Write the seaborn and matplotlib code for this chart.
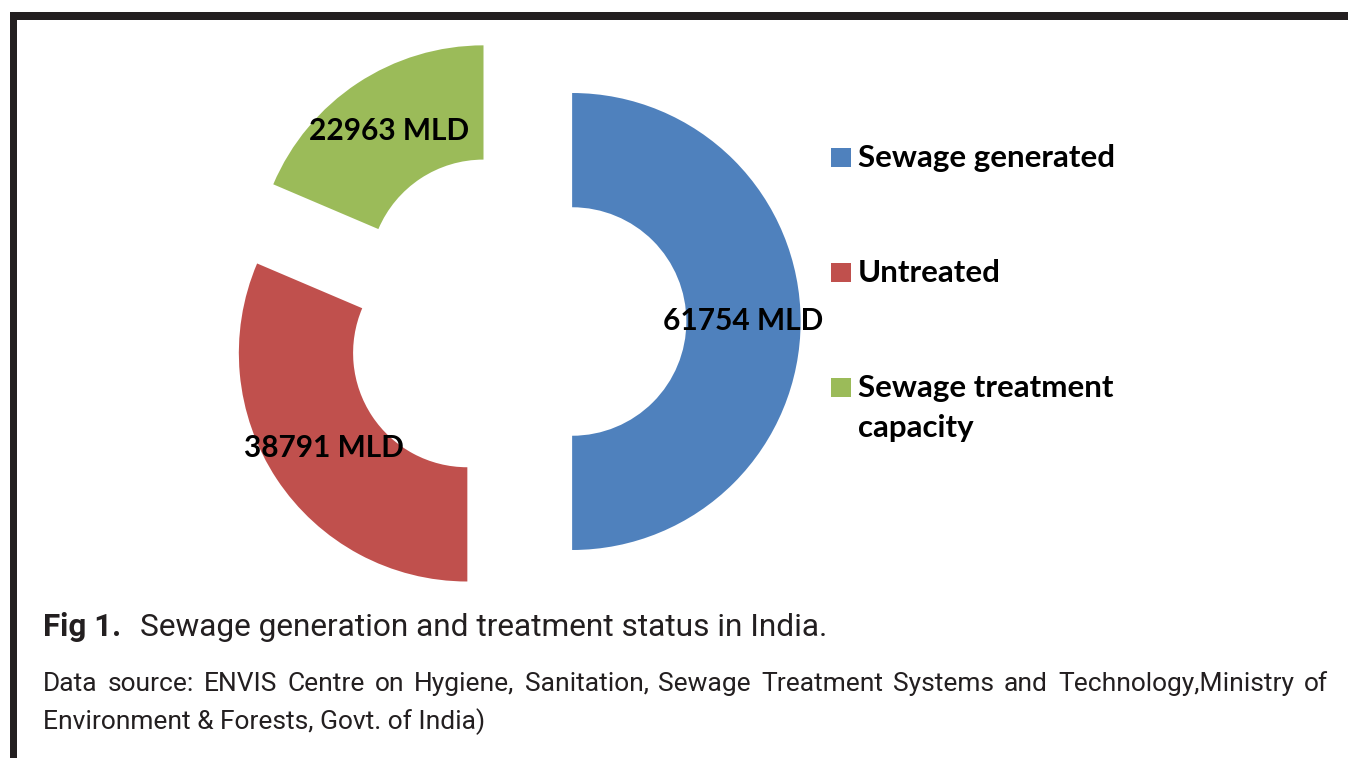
import matplotlib
matplotlib.use("Agg")
import matplotlib.pyplot as plt
import matplotlib.patches as mpatches
import seaborn as sns

# Sewage data (MLD)
categories = ["Sewage generated", "Untreated", "Sewage treatment\ncapacity"]
values = [61754, 38791, 22963]
colors = ["#4F81BD", "#C0504D", "#9BBB59"]

caption_bold = "Fig 1."
caption = "Sewage generation and treatment status in India."
source_line1 = ("Data source: ENVIS Centre on Hygiene, Sanitation, Sewage Treatment "
                "Systems and Technology,Ministry of")
source_line2 = "Environment & Forests, Govt. of India)"

sns.set_theme(style="white")
plt.rcParams["font.family"] = ["Lato", "DejaVu Sans"]

W, H = 1348, 758
fig = plt.figure(figsize=(W / 100, H / 100), dpi=100)
fig.patch.set_facecolor("white")

# pie axes spanning the figure, scaled so 1 unit = donut radius in pixels
scale = 228.5
cx, cy = 515, 321.5
ax = fig.add_axes([0, 0, 1, 1])
wedges, _, autotexts = ax.pie(
    values, colors=colors, startangle=90, counterclock=False,
    explode=[0.25] * len(values), radius=1,
    wedgeprops=dict(width=0.5, linewidth=0),
    autopct="%1.0f", pctdistance=0.75,
    textprops=dict(fontsize=21.5, fontweight="bold", color="black"))
for t, v in zip(autotexts, values):
    t.set_text(f"{v} MLD")
ax.set_xlim(-cx / scale, (W - cx) / scale)
ax.set_ylim(-(H - cy) / scale, cy / scale)
ax.set_aspect("equal", adjustable="datalim")
ax.axis("off")

# legend drawn by hand so the square sits on the first line of each label
line_step = 40
for i, (cat, col) in enumerate(zip(categories, colors)):
    base = 167 + 115 * i
    extra = cat.count("\n") * line_step  # baseline of a multiline text is its last line
    fig.add_artist(mpatches.Rectangle((831 / W, 1 - base / H), 20 / W, 19 / H,
                                      transform=fig.transFigure, color=col, lw=0))
    fig.text(858 / W, 1 - (base + extra) / H, cat, fontsize=22.5, fontweight="bold",
             color="black", va="baseline", linespacing=1.5)

# frame lines (top and left)
dark = "#231f20"
fig.add_artist(mpatches.Rectangle((10 / W, 1 - 20 / H), 1, 8 / H,
                                  transform=fig.transFigure, color=dark, lw=0))
fig.add_artist(mpatches.Rectangle((10 / W, 0), 7 / W, 1 - 12 / H,
                                  transform=fig.transFigure, color=dark, lw=0))

cap_font = ["Roboto", "DejaVu Sans"]
fig.text(43 / W, 1 - 627 / H, caption_bold, fontsize=22.5, fontweight="bold",
         color=dark, va="center", family=cap_font)
fig.text(140 / W, 1 - 627 / H, caption, fontsize=22.8, color=dark,
         va="center", family=cap_font)

# justified first source line
fig.canvas.draw()
renderer = fig.canvas.get_renderer()
words = source_line1.split(" ")
x_left, x_right = 43, 1328
word_texts = [fig.text(0, 1 - 684 / H, w, fontsize=19, color=dark, va="center",
                       family=cap_font) for w in words]
widths = [t.get_window_extent(renderer).width for t in word_texts]
gap = (x_right - x_left - sum(widths)) / (len(words) - 1)
x = x_left
for t, w in zip(word_texts, widths):
    t.set_x(x / W)
    x += w + gap
fig.text(43 / W, 1 - 722 / H, source_line2, fontsize=19, color=dark,
         va="center", family=cap_font)

fig.savefig("out.png", dpi=100)
